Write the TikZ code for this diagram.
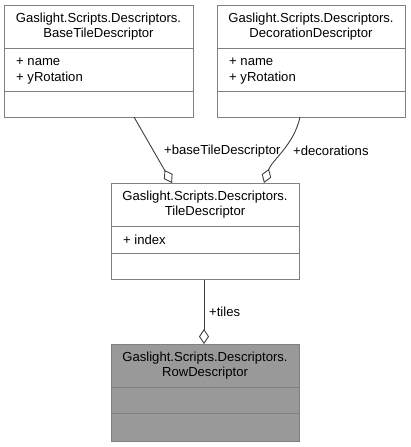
\documentclass[tikz,border=0pt]{standalone}
\usepackage{fontspec}
\setmainfont{Liberation Sans}
\usetikzlibrary{arrows.meta}
\begin{document}
\begin{tikzpicture}[x=1pt,y=-1pt,
  box/.style={draw=boxgray, line width=1pt, fill=white, inner sep=0pt, anchor=north west},
  rowbox/.style={box, fill=rowgray},
  divider/.style={draw=boxgray, line width=1pt},
  title/.style={font=\fontsize{13.1}{15}\selectfont, align=center, inner sep=0pt, text=black},
  attr/.style={font=\fontsize{13.1}{15}\selectfont, anchor=west, inner sep=0pt, text=black},
  conn/.style={draw=linegray, line width=0.9pt, -{Diamond[open, length=15pt, width=10pt, line width=0.9pt]}},
  lbl/.style={font=\fontsize{13.1}{15}\selectfont, inner sep=0pt, text=black}
]
\definecolor{boxgray}{RGB}{128,128,128}
\definecolor{rowgray}{RGB}{153,153,153}
\definecolor{linegray}{RGB}{64,64,64}
\useasboundingbox (0,0) rectangle (411,447);
\fill[white] (0,0) rectangle (411,447);

% BaseTileDescriptor
\node[box, minimum width=189pt, minimum height=112pt] (base) at (4,5) {};
\draw[divider] (4,48) -- (193,48);
\draw[divider] (4,91) -- (193,91);
\node[title] (basetitle) at (98.5,27) {Gaslight.Scripts.Descriptors.\\BaseTileDescriptor};
\node[attr] (basea1) at (16,62) {+ name};
\node[attr] (basea2) at (16,78) {+ yRotation};

% DecorationDescriptor
\node[box, minimum width=188pt, minimum height=112pt] (deco) at (217,5) {};
\draw[divider] (217,48) -- (405,48);
\draw[divider] (217,91) -- (405,91);
\node[title] (decotitle) at (311,27) {Gaslight.Scripts.Descriptors.\\DecorationDescriptor};
\node[attr] (decoa1) at (229,62) {+ name};
\node[attr] (decoa2) at (229,78) {+ yRotation};

% TileDescriptor
\node[box, minimum width=188pt, minimum height=96pt] (tile) at (111,183) {};
\draw[divider] (111,226) -- (299,226);
\draw[divider] (111,253) -- (299,253);
\node[title] (tiletitle) at (205,204.5) {Gaslight.Scripts.Descriptors.\\TileDescriptor};
\node[attr] (tilea1) at (123,239.5) {+ index};

% RowDescriptor
\node[rowbox, minimum width=188pt, minimum height=97pt] (row) at (111,344) {};
\draw[divider] (111,387) -- (299,387);
\draw[divider] (111,413) -- (299,413);
\node[title] (rowtitle) at (205,365.5) {Gaslight.Scripts.Descriptors.\\RowDescriptor};

% connectors
\coordinate (bs) at (134,117);
\coordinate (be) at (172,183);
\coordinate (ds) at (300,117);
\coordinate (de) at (264,183);
\draw[conn] (bs) -- (be);
\draw[conn] (ds) .. controls (294,145) and (272,160) .. (de);
\draw[conn] (tile.south -| 204,0) -- (row.north -| 204,0);

\node[lbl, anchor=west] (l1) at (164,151) {+baseTileDescriptor};
\node[lbl, anchor=west] (l2) at (293,151) {+decorations};
\node[lbl, anchor=west] (l3) at (209,312) {+tiles};
\end{tikzpicture}
\end{document}
